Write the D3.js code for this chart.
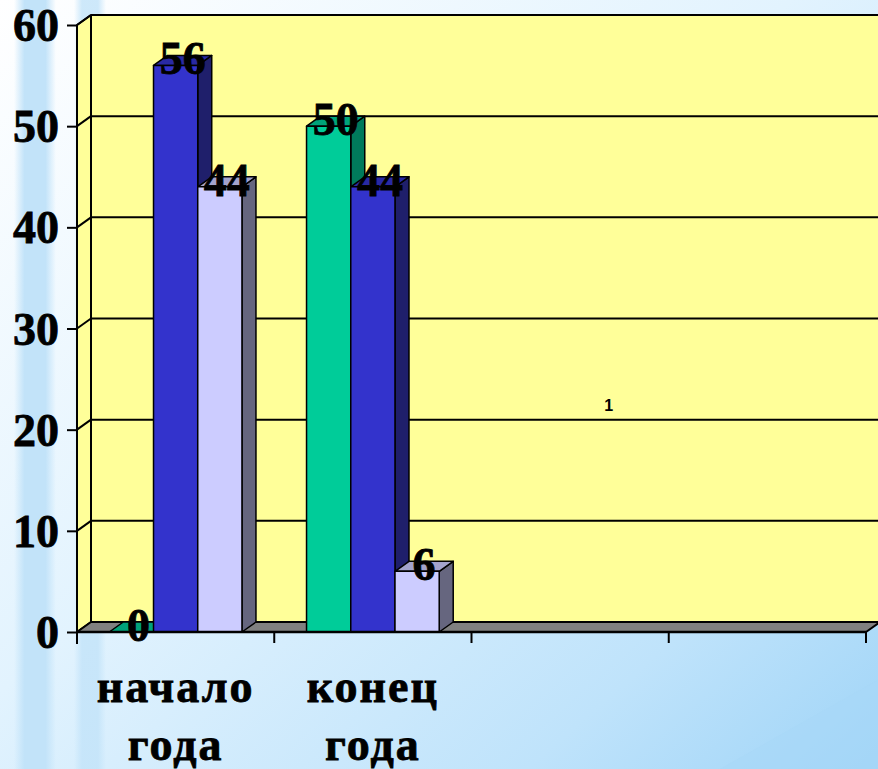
<!DOCTYPE html>
<html>
<head>
<meta charset="utf-8">
<script src="https://cdn.jsdelivr.net/npm/d3@7"></script>
<style>
html,body{margin:0;padding:0;overflow:hidden;}
svg{display:block;}
</style>
</head>
<body>
<svg id="chart" width="878" height="769"></svg>
<script>
// ---- data ----
const categories = ["начало года", "конец года", "", " "];
const seriesNames = ["s1", "s2", "s3"];
const seriesGreen = [0, 50, null, null];
const seriesBlue = [56, 44, null, null];
const seriesLavender = [44, 6, null, null];
const yTicks = [0, 10, 20, 30, 40, 50, 60];
const captionText = "1";

const series = [
  {name: seriesNames[0], values: seriesGreen, front: "#00CC99", side: "#007A5B", top: "#00A37A"},
  {name: seriesNames[1], values: seriesBlue, front: "#3333CC", side: "#1F1F6B", top: "#2929A3"},
  {name: seriesNames[2], values: seriesLavender, front: "#CCCCFF", side: "#66667F", top: "#A3A3CC"}
];

const W = 878, H = 769;
const svg = d3.select("#chart");
const defs = svg.append("defs");

// background gradient
const bg = defs.append("linearGradient").attr("id","bg").attr("x1","0").attr("y1","0").attr("x2","1").attr("y2","1");
bg.append("stop").attr("offset","0").attr("stop-color","#ffffff");
bg.append("stop").attr("offset","0.45").attr("stop-color","#e2f3fe");
bg.append("stop").attr("offset","0.8").attr("stop-color","#bfe3fb");
bg.append("stop").attr("offset","1").attr("stop-color","#9fd4f7");
svg.append("rect").attr("width",W).attr("height",H).attr("fill","url(#bg)");

// vertical stripes on left
const st = defs.append("linearGradient").attr("id","stripe").attr("x1","0").attr("x2","1").attr("y1","0").attr("y2","0");
st.append("stop").attr("offset","0").attr("stop-color","#c2e3f9").attr("stop-opacity",0);
st.append("stop").attr("offset","0.25").attr("stop-color","#c2e3f9").attr("stop-opacity",1);
st.append("stop").attr("offset","0.75").attr("stop-color","#c2e3f9").attr("stop-opacity",1);
st.append("stop").attr("offset","1").attr("stop-color","#c2e3f9").attr("stop-opacity",0);
svg.append("rect").attr("x",14).attr("y",0).attr("width",42).attr("height",H).attr("fill","url(#stripe)");
svg.append("rect").attr("x",74).attr("y",0).attr("width",32).attr("height",H).attr("fill","url(#stripe)").attr("opacity",0.8);
// soft diagonal highlight bottom-right
svg.append("path").attr("d","M720,769 L878,680 L878,769 Z").attr("fill","#a8d8f8").attr("opacity",0.5);

// ---- scales ----
const x0 = 77, x1r = 866, yBase = 632, yTopV = 25;
const dx = 14, dy = -10;
const x = d3.scaleBand().domain(d3.range(categories.length)).range([x0, x1r]);
const xs = d3.scaleBand().domain(seriesNames).range([0, x.bandwidth()]).paddingOuter(0.73);
const y = d3.scaleLinear().domain([0, 60]).range([yBase, yTopV]);

const black = "#000";
const serif = "'Liberation Serif','Times New Roman',serif";
// back wall
svg.append("rect").attr("x", x0+dx).attr("y", y(60)+dy).attr("width", (x1r+dx)-(x0+dx)+4).attr("height", y(0)-y(60))
  .attr("fill","#FFFF99");
// left side wall
svg.append("path").attr("d",`M${x0},${y(0)} L${x0},${y(60)} L${x0+dx},${y(60)+dy} L${x0+dx},${y(0)+dy} Z`)
  .attr("fill","#FFFF99").attr("stroke",black).attr("stroke-width",2).attr("stroke-linejoin","round");
// gridlines on back wall + side wall
yTicks.forEach(t => {
  if (t > 0) {
    svg.append("line").attr("x1", x0+dx).attr("x2", x1r+dx+4).attr("y1", y(t)+dy).attr("y2", y(t)+dy)
      .attr("stroke",black).attr("stroke-width",2);
    svg.append("line").attr("x1", x0).attr("x2", x0+dx).attr("y1", y(t)).attr("y2", y(t)+dy)
      .attr("stroke",black).attr("stroke-width",2);
  }
});
svg.append("line").attr("x1", x0+dx).attr("x2", x0+dx).attr("y1", y(60)+dy).attr("y2", y(0)+dy)
  .attr("stroke",black).attr("stroke-width",2);
// floor
svg.append("path").attr("d",`M${x0},${y(0)} L${x1r},${y(0)} L${x1r+dx},${y(0)+dy} L${x0+dx},${y(0)+dy} Z`)
  .attr("fill","#808080").attr("stroke",black).attr("stroke-width",2).attr("stroke-linejoin","round");

// ---- bars ----
const barsG = svg.append("g");
const labelG = svg.append("g");
categories.forEach((c, ci) => {
  series.forEach(s => {
    const v = s.values[ci];
    if (v === null || v === undefined) return;
    const bx = x(ci) + xs(s.name), bw = xs.bandwidth();
    const yt = y(v), yb = y(0);
    const g = barsG.append("g").attr("stroke",black).attr("stroke-width",1.5).attr("stroke-linejoin","round");
    // side
    g.append("path").attr("d",`M${bx+bw},${yb} L${bx+bw+dx},${yb+dy} L${bx+bw+dx},${yt+dy} L${bx+bw},${yt} Z`).attr("fill", s.side);
    // top
    g.append("path").attr("d",`M${bx},${yt} L${bx+dx},${yt+dy} L${bx+bw+dx},${yt+dy} L${bx+bw},${yt} Z`).attr("fill", s.top);
    // front
    if (yb - yt > 0.5) g.append("rect").attr("x",bx).attr("y",yt).attr("width",bw).attr("height",yb-yt).attr("fill", s.front);
    labelG.append("text").attr("x", bx + bw/2 + dx/2).attr("y", yt + dy/2 + 14)
      .attr("text-anchor","middle").attr("font-family",serif)
      .attr("font-weight","bold").attr("font-size",46).attr("fill",black)
      .attr("stroke",black).attr("stroke-width",0.8).text(v);
  });
});

// ---- axes ----
const yAxis = d3.axisLeft(y).tickValues(yTicks).tickSize(10).tickPadding(8);
const ya = svg.append("g").attr("transform",`translate(${x0},0)`).call(yAxis);
ya.select(".domain").attr("d", `M0,${y(60)} V${y(0)+12}`).attr("stroke",black).attr("stroke-width",2);
ya.selectAll(".tick line").attr("stroke",black).attr("stroke-width",2);
ya.selectAll(".tick text").attr("font-family",serif)
  .attr("font-weight","bold").attr("font-size",46).attr("fill",black).attr("dy","0.34em")
  .attr("stroke",black).attr("stroke-width",0.8);

const xTickPos = d3.range(categories.length + 1).map(i => i < categories.length ? x(i) : x1r);
const xa = svg.append("g");
xa.append("line").attr("x1",x0).attr("x2",x1r).attr("y1",yBase).attr("y2",yBase).attr("stroke",black).attr("stroke-width",2.5);
xTickPos.forEach(p => xa.append("line").attr("x1",p).attr("x2",p).attr("y1",yBase).attr("y2",yBase+11).attr("stroke",black).attr("stroke-width",2));

categories.forEach((c, ci) => {
  const words = c.trim() ? c.split(" ") : [];
  const t = svg.append("text").attr("x", x(ci) + x.bandwidth()/2).attr("y", 702)
    .attr("text-anchor","middle").attr("font-family",serif)
    .attr("font-weight","bold").attr("font-size",46).attr("letter-spacing",2).attr("fill",black)
    .attr("stroke",black).attr("stroke-width",0.8);
  words.forEach((w, wi) => t.append("tspan").attr("x", x(ci) + x.bandwidth()/2).attr("dy", wi ? 58 : 0).text(w));
});

// caption "1"
svg.append("text").attr("x", x(2) + x.bandwidth()*0.695).attr("y", 411).attr("text-anchor","middle")
  .attr("font-family","'Liberation Sans',Arial,sans-serif").attr("font-weight","bold").attr("font-size",16)
  .attr("fill",black).text(captionText);
</script>
</body>
</html>
